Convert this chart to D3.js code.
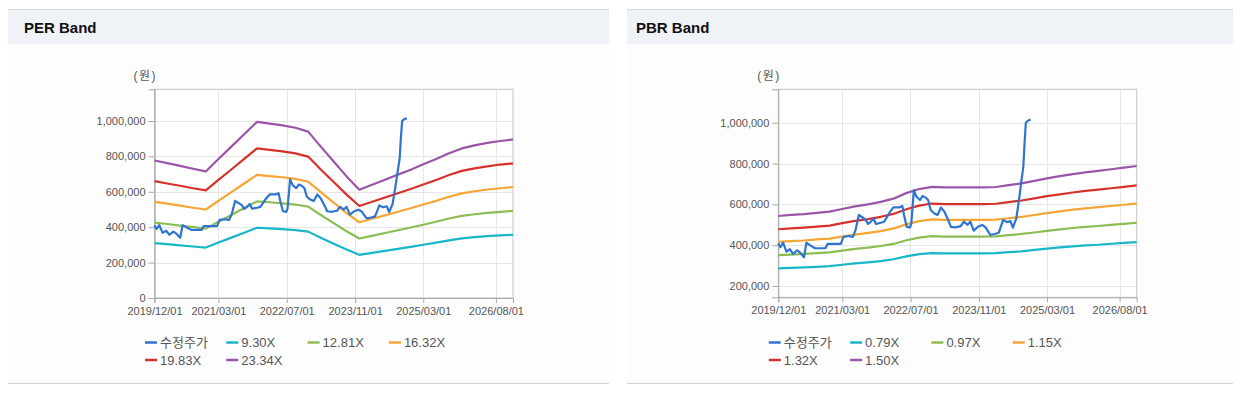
<!DOCTYPE html>
<html><head><meta charset="utf-8">
<script src="https://cdn.jsdelivr.net/npm/d3@7"></script>
<style>
body{margin:0;background:#fff;}
svg{display:block;font-family:"Liberation Sans","Noto Sans CJK KR",Arial,sans-serif;}
</style></head><body>
<svg id="c" width="1247" height="396"></svg>
<script>
// ---------- DATA ----------
const bandDates = ["2019-12-01","2020-03-01","2020-06-01","2020-09-01","2020-12-01","2021-03-01","2021-06-01","2021-09-01","2021-12-01","2022-03-01","2022-06-01","2022-09-01","2022-12-01","2023-03-01","2023-06-01","2023-09-01","2023-12-01","2024-03-01","2024-06-01","2024-09-01","2024-12-01","2025-03-01","2025-06-01","2025-09-01","2025-12-01","2026-03-01","2026-06-01","2026-09-01","2026-12-01"];

const perLabels = ["9.30X","12.81X","16.32X","19.83X","23.34X"];
const perCyan   = [310,304,297,291,285,313,341,369,397,393,389,383,375,341,307,274,244,255,266,278,289,301,313,326,337,344,349,354,357];
const perGreen  = [426,418,409,401,392,431,469,508,546,541,535,528,516,469,423,377,336,351,367,383,398,414,431,449,464,473,481,487,492];
const perOrange = [543,533,522,510,500,549,598,647,696,689,682,673,657,598,539,480,428,448,467,487,507,528,549,572,591,603,613,620,627];
const perRed    = [660,647,634,620,608,667,726,786,845,837,828,817,799,726,655,584,520,544,568,592,616,641,667,695,718,732,744,754,761];
const perPurple = [777,762,746,730,715,785,855,925,995,985,975,962,940,855,771,687,612,640,668,697,725,755,785,818,845,862,876,887,896];

const pbrLabels = ["0.79X","0.97X","1.15X","1.32X","1.50X"];
const pbrCyan   = [286,289,291,294,297,304,311,316,322,331,345,356,361,360,360,360,360,361,366,370,377,383,389,394,399,402,407,411,415];
const pbrGreen  = [351,354,357,361,365,373,382,388,396,406,424,437,444,442,442,442,442,443,449,455,462,470,477,484,490,494,499,504,510];
const pbrOrange = [416,420,423,428,432,442,452,460,469,482,502,518,526,524,524,524,524,525,532,539,548,557,566,574,580,586,592,598,604];
const pbrRed    = [478,482,486,491,496,508,519,528,539,553,576,594,604,601,601,601,601,603,611,619,629,640,649,658,666,672,679,686,693];
const pbrPurple = [543,548,552,558,564,577,590,600,612,628,655,675,686,683,683,683,683,685,694,703,715,727,738,748,757,764,772,780,788];

const priceLabel = "수정주가";
const priceDates = ["2019-12-01","2019-12-16","2020-01-04","2020-01-28","2020-02-22","2020-03-16","2020-04-13","2020-05-07","2020-06-01","2020-06-19","2020-07-13","2020-08-19","2020-09-25","2020-11-01","2020-11-16","2020-12-28","2021-02-19","2021-03-10","2021-04-16","2021-05-16","2021-06-04","2021-06-28","2021-07-22","2021-08-16","2021-09-01","2021-09-22","2021-10-10","2021-10-28","2021-12-01","2021-12-25","2022-02-01","2022-03-01","2022-04-10","2022-05-04","2022-05-16","2022-06-04","2022-06-28","2022-07-07","2022-07-25","2022-08-13","2022-09-07","2022-09-25","2022-10-16","2022-11-04","2022-11-22","2022-12-16","2023-01-10","2023-02-04","2023-02-28","2023-03-22","2023-04-16","2023-05-19","2023-06-25","2023-07-16","2023-08-13","2023-09-01","2023-09-25","2023-10-25","2023-11-25","2023-12-19","2024-01-22","2024-02-22","2024-03-22","2024-04-22","2024-05-19","2024-06-13","2024-07-01","2024-07-25","2024-08-13","2024-08-28","2024-09-13","2024-09-22","2024-10-01","2024-10-16","2024-11-04"];
const priceValues = [410,390,412,368,380,357,375,362,340,412,400,385,385,385,406,406,406,441,445,441,474,548,537,523,504,515,531,504,510,515,559,585,585,592,548,490,487,506,670,637,621,641,634,621,572,556,548,585,564,531,490,487,493,515,500,515,471,490,499,487,450,455,461,523,513,518,486,531,621,703,784,899,1000,1010,1016];

const xTickLabels = ["2019/12/01","2021/03/01","2022/07/01","2023/11/01","2025/03/01","2026/08/01"];
const perYTicks = [0,200000,400000,600000,800000,1000000];
const pbrYTicks = [200000,400000,600000,800000,1000000];
const unitLabel = "(원)";
const titles = ["PER Band","PBR Band"];

// ---------- STYLE ----------
const bandColors = ["#18b6c8","#8cbd52","#f5a534","#d6322b","#9a55a9"];
const priceColor = "#2f74cf";
const UNIT = 1000;

const svg = d3.select("#c");
const parseD = d3.timeParse("%Y-%m-%d");
const parseT = d3.timeParse("%Y/%m/%d");

function drawPanel(cfg){
  const g = svg.append("g");
  g.append("line").attr("x1",cfg.px).attr("x2",cfg.px+cfg.pw).attr("y1",9.5).attr("y2",9.5).attr("stroke","#d9d9d9");
  g.append("rect").attr("x",cfg.px).attr("y",10).attr("width",cfg.pw).attr("height",34).attr("fill","#eff2f6");
  g.append("rect").attr("x",cfg.px).attr("y",44).attr("width",cfg.pw).attr("height",339).attr("fill","#fdfdfd");
  g.append("line").attr("x1",cfg.px).attr("x2",cfg.px+cfg.pw).attr("y1",383.5).attr("y2",383.5).attr("stroke","#d2d2d2");
  g.append("text").attr("x",cfg.tx).attr("y",33).text(cfg.title)
    .attr("font-size",15).attr("font-weight","bold").attr("fill","#111");

  const L=cfg.l,R=cfg.r,T=cfg.t,B=cfg.b;
  const x = d3.scaleTime().domain([parseD("2019-12-01"),parseD("2026-12-01")]).range([L,R]);
  const y = d3.scaleLinear().domain(cfg.yDomain).range([B,T]);
  const xt = xTickLabels.map(parseT);

  g.append("rect").attr("x",L).attr("y",T).attr("width",R-L).attr("height",B-T).attr("fill","#fff");
  g.append("g").selectAll("line").data(xt).join("line")
    .attr("x1",d=>Math.round(x(d))+0.5).attr("x2",d=>Math.round(x(d))+0.5).attr("y1",T).attr("y2",B)
    .attr("stroke","#e6e6e6");
  g.append("g").selectAll("line").data(cfg.yTicks).join("line")
    .attr("y1",d=>Math.round(y(d))+0.5).attr("y2",d=>Math.round(y(d))+0.5).attr("x1",L).attr("x2",R)
    .attr("stroke","#e6e6e6");
  g.append("rect").attr("x",L).attr("y",T).attr("width",R-L).attr("height",B-T)
    .attr("fill","none").attr("stroke","#c4c4c4");

  const ya = g.append("g").attr("transform",`translate(${L},0)`)
    .call(d3.axisLeft(y).tickValues(cfg.yTicks).tickFormat(d3.format(",")).tickSize(6).tickPadding(3));
  const xa = g.append("g").attr("transform",`translate(0,${B})`)
    .call(d3.axisBottom(x).tickValues(xt).tickFormat(d3.timeFormat("%Y/%m/%d")).tickSize(5).tickPadding(4));
  [ya,xa].forEach(a=>{
    a.selectAll(".domain").attr("stroke","#a8a8a8");
    a.selectAll(".tick line").attr("stroke","#a8a8a8");
    a.selectAll("text").attr("fill","#555").attr("font-size",11)
      .attr("font-family",'"Liberation Sans",Arial,sans-serif');
  });
  g.append("text").attr("x",L-21).attr("y",80).text(unitLabel)
    .attr("font-size",12).attr("fill","#555").attr("letter-spacing",1.5);

  const bd = bandDates.map(parseD);
  const line = d3.line().x(d=>x(d[0])).y(d=>y(d[1]*UNIT));
  cfg.bands.forEach((arr,i)=>{
    g.append("path").datum(arr.map((v,k)=>[bd[k],v])).attr("d",line)
      .attr("fill","none").attr("stroke",bandColors[i]).attr("stroke-width",2.2).attr("stroke-linejoin","round");
  });
  const pd = priceDates.map(parseD);
  g.append("path").datum(priceValues.map((v,k)=>[pd[k],v])).attr("d",line)
    .attr("fill","none").attr("stroke",priceColor).attr("stroke-width",2.2).attr("stroke-linejoin","round");

  const items = [{t:priceLabel,c:priceColor}].concat(cfg.labels.map((t,i)=>({t,c:bandColors[i]})));
  const lx = L-9.5;
  items.forEach((it,i)=>{
    const col=i%4,row=Math.floor(i/4);
    const ix = lx + col*81.3, iy = 342.5 + row*17.5;
    g.append("line").attr("x1",ix).attr("x2",ix+12).attr("y1",iy).attr("y2",iy)
      .attr("stroke",it.c).attr("stroke-width",2.5);
    g.append("text").attr("x",ix+15).attr("y",iy).attr("dy","0.36em").text(it.t)
      .attr("font-size",13).attr("fill","#555");
  });
}

drawPanel({px:8,pw:601,tx:24,title:titles[0],l:154.5,r:513,t:89.3,b:298,
  yDomain:[0,1179000],yTicks:perYTicks,bands:[perCyan,perGreen,perOrange,perRed,perPurple],labels:perLabels});
drawPanel({px:627,pw:606,tx:636,title:titles[1],l:778.3,r:1136.7,t:89.3,b:297.3,
  yDomain:[144600,1163700],yTicks:pbrYTicks,bands:[pbrCyan,pbrGreen,pbrOrange,pbrRed,pbrPurple],labels:pbrLabels});
</script></body></html>
